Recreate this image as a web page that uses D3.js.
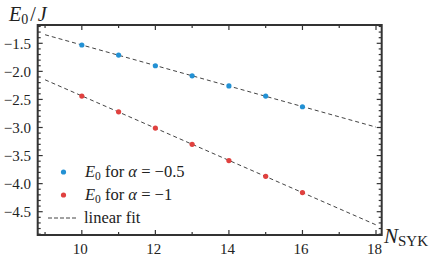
<!DOCTYPE html>
<html>
<head>
<meta charset="utf-8">
<script src="https://cdn.jsdelivr.net/npm/d3@7"></script>
<style>
  body { margin: 0; background: #fff; }
  svg { display: block; }
  text { font-family: "Liberation Serif", serif; fill: #222; }
</style>
</head>
<body>
<svg width="432" height="257"></svg>
<script>
let nSyk = [10, 11, 12, 13, 14, 15, 16]
let energyHalf = [-1.53, -1.71, -1.90, -2.08, -2.26, -2.44, -2.63]
let energyOne = [-2.44, -2.72, -3.01, -3.30, -3.59, -3.87, -4.16]
let xTicks = [10, 12, 14, 16, 18]
let yTicks = [-1.5, -2.0, -2.5, -3.0, -3.5, -4.0, -4.5]
let fitRange = [9, 18]

let svg = d3.select('svg')

let x = d3.scaleLinear().domain([8.8, 18.155]).range([37.7, 381.7])
let y = d3.scaleLinear().domain([-4.915, -1.174]).range([235, 25])

let blue = '#2391d4'
let red = '#e0413f'

// least squares fit
function fit(xs, ys) {
    let mx = d3.mean(xs), my = d3.mean(ys)
    let sxy = d3.sum(xs, (v, i) => (v - mx) * (ys[i] - my))
    let sxx = d3.sum(xs, v => (v - mx) * (v - mx))
    let b = sxy / sxx
    return t => my + b * (t - mx)
}

let fits = [fit(nSyk, energyHalf), fit(nSyk, energyOne)]
let line = d3.line().x(d => x(d[0])).y(d => y(d[1]))

svg.selectAll('path.fit')
    .data(fits)
    .enter()
    .append('path')
    .attr('class', 'fit')
    .attr('d', f => line(fitRange.map(t => [t, f(t)])))
    .attr('fill', 'none')
    .attr('stroke', '#444')
    .attr('stroke-width', 1)
    .attr('stroke-dasharray', '4,3')

let series = [
    { values: energyHalf, color: blue },
    { values: energyOne, color: red }
]

series.forEach(s => {
    svg.selectAll(null)
        .data(nSyk)
        .enter()
        .append('circle')
        .attr('cx', d => x(d))
        .attr('cy', (d, i) => y(s.values[i]))
        .attr('r', 2.6)
        .attr('fill', s.color)
})

// ticks on all four sides, pointing in
let [x0, x1] = x.range()
let [y0, y1] = y.range()
let minorX = d3.range(9, 18.1, 1).filter(v => !xTicks.includes(v))
let minorY = d3.range(-49, -11, 1).map(v => v / 10).filter(v => Math.round(v * 10) % 5 != 0)

let ticks = svg.append('g').attr('stroke', '#333').attr('stroke-width', 1.2)
xTicks.forEach(v => {
    ticks.append('line').attr('x1', x(v)).attr('x2', x(v)).attr('y1', y0).attr('y2', y0 - 5)
    ticks.append('line').attr('x1', x(v)).attr('x2', x(v)).attr('y1', y1).attr('y2', y1 + 5)
})
minorX.forEach(v => {
    ticks.append('line').attr('x1', x(v)).attr('x2', x(v)).attr('y1', y0).attr('y2', y0 - 3)
    ticks.append('line').attr('x1', x(v)).attr('x2', x(v)).attr('y1', y1).attr('y2', y1 + 3)
})
yTicks.forEach(v => {
    ticks.append('line').attr('x1', x0).attr('x2', x0 + 5).attr('y1', y(v)).attr('y2', y(v))
    ticks.append('line').attr('x1', x1).attr('x2', x1 - 5).attr('y1', y(v)).attr('y2', y(v))
})
minorY.forEach(v => {
    ticks.append('line').attr('x1', x0).attr('x2', x0 + 3).attr('y1', y(v)).attr('y2', y(v))
    ticks.append('line').attr('x1', x1).attr('x2', x1 - 3).attr('y1', y(v)).attr('y2', y(v))
})

svg.append('rect')
    .attr('x', x0).attr('y', y1)
    .attr('width', x1 - x0).attr('height', y0 - y1)
    .attr('fill', 'none')
    .attr('stroke', '#333')
    .attr('stroke-width', 2)

let fmt = v => d3.format('.1f')(v).replace('-', '\u2212')

svg.selectAll('text.ytick')
    .data(yTicks)
    .enter()
    .append('text')
    .attr('class', 'ytick')
    .attr('x', 31)
    .attr('y', d => y(d))
    .attr('dy', '0.35em')
    .attr('text-anchor', 'end')
    .attr('font-size', 15)
    .text(fmt)

svg.selectAll('text.xtick')
    .data(xTicks)
    .enter()
    .append('text')
    .attr('class', 'xtick')
    .attr('x', d => x(d) - 1.5)
    .attr('y', 254)
    .attr('text-anchor', 'middle')
    .attr('font-size', 15)
    .text(d => d)

// axis titles
let ylab = svg.append('text').attr('x', 9).attr('y', 20.5).attr('font-size', 20)
ylab.append('tspan').attr('font-style', 'italic').text('E')
ylab.append('tspan').attr('font-size', 14).attr('dy', 3).text('0')
ylab.append('tspan').attr('dy', -3).attr('dx', 2).text('/')
ylab.append('tspan').attr('font-style', 'italic').attr('dx', 2).text('J')

let xlab = svg.append('text').attr('x', 384).attr('y', 243).attr('font-size', 21)
xlab.append('tspan').attr('font-style', 'italic').text('N')
xlab.append('tspan').attr('font-size', 15).attr('dy', 3).text('SYK')

// legend
let legendItems = [
    { color: blue, alpha: '\u22120.5' },
    { color: red, alpha: '\u22121' }
]
let legend = svg.append('g').attr('class', 'legend')

legendItems.forEach((d, i) => {
    let cy = 172 + 23 * i
    legend.append('circle').attr('cx', 63.5).attr('cy', cy).attr('r', 2.6).attr('fill', d.color)
    let t = legend.append('text').attr('x', 85).attr('y', cy + 5).attr('font-size', 16.5)
    t.append('tspan').attr('font-style', 'italic').text('E')
    t.append('tspan').attr('font-size', 11.5).attr('dy', 3).text('0')
    t.append('tspan').attr('dy', -3).text(' for ')
    t.append('tspan').attr('font-style', 'italic').text('\u03b1')
    t.append('tspan').text(' = ' + d.alpha)
})

legend.append('line')
    .attr('x1', 48).attr('x2', 78)
    .attr('y1', 218).attr('y2', 218)
    .attr('stroke', '#444')
    .attr('stroke-dasharray', '4,2')
legend.append('text')
    .attr('x', 84).attr('y', 223)
    .attr('font-size', 16.5)
    .text('linear fit')
</script>
</body>
</html>
